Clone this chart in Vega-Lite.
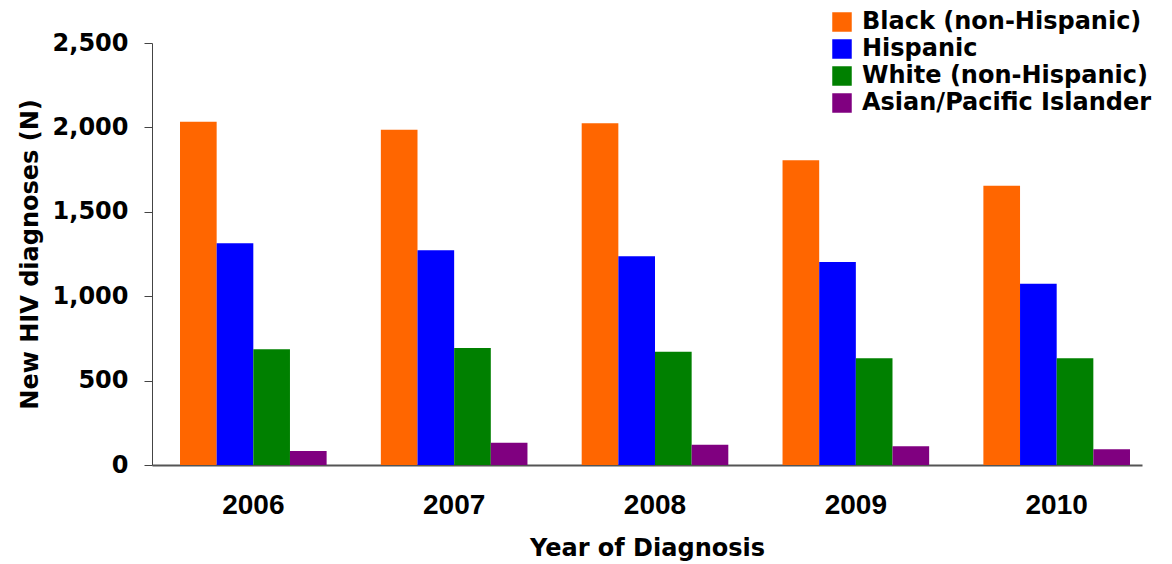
{
  "$schema": "https://vega.github.io/schema/vega-lite/v6.json",
  "autosize": {"type": "none"},
  "width": 990,
  "height": 422,
  "padding": {"left": 152, "top": 43, "right": 30, "bottom": 99},
  "background": "white",
  "config": {"view": {"stroke": null}},
  "data": {"values": [
    {"year": "2006", "group": "Black (non-Hispanic)", "n": 2034},
    {"year": "2006", "group": "Hispanic", "n": 1313},
    {"year": "2006", "group": "White (non-Hispanic)", "n": 685},
    {"year": "2006", "group": "Asian/Pacific Islander", "n": 83},
    {"year": "2007", "group": "Black (non-Hispanic)", "n": 1986},
    {"year": "2007", "group": "Hispanic", "n": 1272},
    {"year": "2007", "group": "White (non-Hispanic)", "n": 693},
    {"year": "2007", "group": "Asian/Pacific Islander", "n": 132},
    {"year": "2008", "group": "Black (non-Hispanic)", "n": 2024},
    {"year": "2008", "group": "Hispanic", "n": 1236},
    {"year": "2008", "group": "White (non-Hispanic)", "n": 671},
    {"year": "2008", "group": "Asian/Pacific Islander", "n": 120},
    {"year": "2009", "group": "Black (non-Hispanic)", "n": 1805},
    {"year": "2009", "group": "Hispanic", "n": 1203},
    {"year": "2009", "group": "White (non-Hispanic)", "n": 632},
    {"year": "2009", "group": "Asian/Pacific Islander", "n": 111},
    {"year": "2010", "group": "Black (non-Hispanic)", "n": 1655},
    {"year": "2010", "group": "Hispanic", "n": 1074},
    {"year": "2010", "group": "White (non-Hispanic)", "n": 632},
    {"year": "2010", "group": "Asian/Pacific Islander", "n": 93}
  ]},
  "mark": {"type": "bar"},
  "encoding": {
    "x": {
      "field": "year", "type": "nominal",
      "scale": {"paddingInner": 0.27, "paddingOuter": 0.0996, "align": 0.7},
      "axis": {
        "title": "Year of Diagnosis", "labelAngle": 0, "ticks": false, "tickSize": 0,
        "labelFont": "Liberation Sans", "labelFontSize": 28, "labelFontWeight": "bold", "labelColor": "black",
        "labelPadding": 26,
        "titleFont": "DejaVu Sans", "titleFontSize": 24, "titleFontWeight": "bold", "titleColor": "black",
        "titlePadding": 17,
        "domainColor": "#555555", "domainWidth": 2
      }
    },
    "xOffset": {
      "field": "group", "type": "nominal",
      "sort": ["Black (non-Hispanic)", "Hispanic", "White (non-Hispanic)", "Asian/Pacific Islander"],
      "scale": {"paddingInner": 0, "paddingOuter": 0}
    },
    "y": {
      "field": "n", "type": "quantitative",
      "scale": {"domain": [0, 2500], "nice": false},
      "axis": {
        "title": "New HIV diagnoses (N)", "values": [0, 500, 1000, 1500, 2000, 2500],
        "format": ",d", "grid": false, "tickSize": 8, "tickColor": "#444444", "domainColor": "#444444",
        "labelFont": "DejaVu Sans", "labelFontSize": 24, "labelFontWeight": "bold", "labelColor": "black",
        "labelPadding": 16,
        "titleFont": "DejaVu Sans", "titleFontSize": 24, "titleFontWeight": "bold", "titleColor": "black",
        "titlePadding": 10
      }
    },
    "color": {
      "field": "group", "type": "nominal",
      "sort": ["Black (non-Hispanic)", "Hispanic", "White (non-Hispanic)", "Asian/Pacific Islander"],
      "scale": {
        "domain": ["Black (non-Hispanic)", "Hispanic", "White (non-Hispanic)", "Asian/Pacific Islander"],
        "range": ["#FF6600", "#0000FF", "#008000", "#800080"]
      },
      "legend": {
        "title": null, "orient": "none", "legendX": 678, "legendY": -33,
        "symbolType": "square", "symbolSize": 380, "symbolStrokeWidth": 0, "symbolOpacity": 1,
        "labelFont": "DejaVu Sans", "labelFontSize": 24, "labelFontWeight": "bold", "labelColor": "black",
        "labelOffset": 8, "rowPadding": 3, "labelLimit": 400, "padding": 0
      }
    }
  }
}
